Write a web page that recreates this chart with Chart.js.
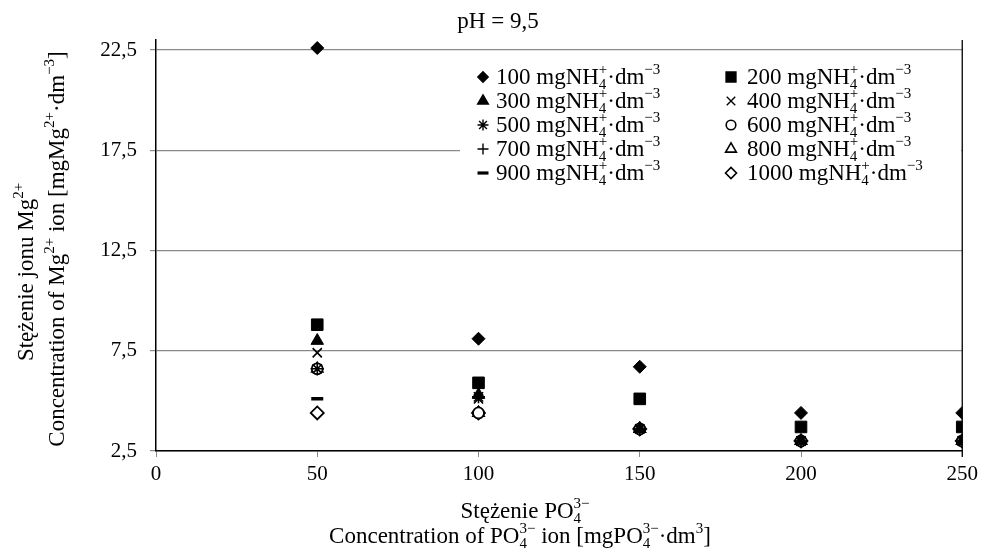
<!DOCTYPE html>
<html>
<head>
<meta charset="utf-8">
<script src="https://cdn.jsdelivr.net/npm/chart.js@4.4.1/dist/chart.umd.min.js"></script>
<style>
html,body{margin:0;padding:0;background:#fff;}
#wrap{width:983px;height:553px;position:relative;}
</style>
</head>
<body>
<div id="wrap"><canvas id="c" width="983" height="553"></canvas></div>
<script>
// ---- data ----
const phosphate = [50, 100, 150, 200, 250];
const seriesLabels = ['100', '200', '300', '400', '500', '600', '700', '800', '900', '1000'];
const s100  = [22.6, 8.1, 6.7, 4.4, 4.4];
const s200  = [8.8, 5.9, 5.1, 3.7, 3.7];
const s300  = [8.0, 5.3, 3.6, 3.0, 3.0];
const s400  = [7.4, 5.1, 3.6, 3.0, 3.0];
const s500  = [6.6, 5.2, 3.6, 3.0, 3.0];
const s600  = [6.6, 4.4, 3.6, 3.0, 3.0];
const s700  = [6.6, 4.4, 3.6, 3.0, 3.0];
const s800  = [6.6, 4.4, 3.6, 3.0, 3.0];
const s900  = [5.1, 4.4, 3.6, 3.0, 3.0];
const s1000 = [4.4, 4.4, 3.6, 3.0, 3.0];
const yTicks = [2.5, 7.5, 12.5, 17.5, 22.5];
const xTicks = [0, 50, 100, 150, 200, 250];

const FONT = "'Liberation Serif', 'Times New Roman', serif";
const values = [s100, s200, s300, s400, s500, s600, s700, s800, s900, s1000];
const styles = [
  {ps:'rectRot', r:6.5, lr:5.2, fill:'#000', bw:1},
  {ps:'rect', r:8.2, lr:7, fill:'#000', bw:1},
  {ps:'triangle', r:7.2, lr:6.2, fill:'#000', bw:1},
  {ps:'crossRot', r:6.5, lr:6, fill:'#000', bw:1.6},
  {ps:'star', r:6.5, lr:5.5, fill:'#000', bw:1.6},
  {ps:'circle', r:5.5, lr:4.8, fill:'#fff', bw:1.8},
  {ps:'cross', r:6.5, lr:5.5, fill:'#000', bw:1.6},
  {ps:'triangle', r:6.5, lr:6.2, fill:'#fff', bw:1.6},
  {ps:'line', r:6, lr:5.5, fill:'#000', bw:3.5},
  {ps:'rectRot', r:6.5, lr:5.5, fill:'#fff', bw:1.8}
];
const datasets = values.map((arr, i) => ({
  label: seriesLabels[i],
  data: phosphate.map((x, j) => ({x: x, y: arr[j]})),
  pointStyle: styles[i].ps,
  pointRadius: styles[i].r,
  pointBackgroundColor: styles[i].fill,
  pointBorderColor: '#000',
  pointBorderWidth: styles[i].bw,
  showLine: false
}));

// rich text helper
function partWidth(ctx, p, size) {
  if (p.t !== undefined) { ctx.font = size + 'px ' + FONT; return ctx.measureText(p.t).width; }
  const ss = Math.round(size * 0.64);
  ctx.font = ss + 'px ' + FONT;
  if (p.sup !== undefined) return ctx.measureText(p.sup).width;
  if (p.sub !== undefined) return ctx.measureText(p.sub).width;
  if (p.stack) return Math.max(ctx.measureText(p.stack[0]).width, ctx.measureText(p.stack[1]).width);
  return 0;
}
function drawRich(ctx, parts, x, y, size, align) {
  let total = 0;
  parts.forEach(p => total += partWidth(ctx, p, size));
  let cx = align === 'center' ? x - total / 2 : x;
  ctx.textAlign = 'left';
  ctx.textBaseline = 'alphabetic';
  ctx.fillStyle = '#000';
  const ss = Math.round(size * 0.64);
  parts.forEach(p => {
    const w = partWidth(ctx, p, size);
    if (p.t !== undefined) {
      ctx.font = size + 'px ' + FONT; ctx.fillText(p.t, cx, y);
    } else {
      ctx.font = ss + 'px ' + FONT;
      if (p.sup !== undefined) ctx.fillText(p.sup, cx, y - size * 0.42);
      if (p.sub !== undefined) ctx.fillText(p.sub, cx, y + size * 0.2);
      if (p.stack) {
        ctx.fillText(p.stack[0], cx, y - size * 0.42);
        ctx.fillText(p.stack[1], cx, y + size * 0.2);
      }
    }
    cx += w;
  });
}

const legendRows = [[0,1],[2,3],[4,5],[6,7],[8,9]];
const customDraw = {
  id: 'customDraw',
  beforeDatasetsDraw(chart) {
    const ctx = chart.ctx;
    const ca = chart.chartArea;
    ctx.save();
    // legend box
    ctx.fillStyle = '#fff';
    ctx.fillRect(460, 58, ca.right - 460 - 1, 134);
    // legend entries
    const colMarker = [483, 731];
    const colText = [496, 747];
    const rowY = [77, 101, 125, 149, 173];
    legendRows.forEach((row, ri) => {
      row.forEach((di, ci) => {
        const st = styles[di];
        ctx.fillStyle = st.fill;
        ctx.strokeStyle = '#000';
        ctx.lineWidth = st.ps === 'line' ? 3.2 : (st.fill === '#fff' ? 1.6 : 1.4);
        Chart.helpers.drawPoint(ctx, {pointStyle: st.ps, rotation: 0, borderWidth: 1, radius: st.lr}, colMarker[ci], rowY[ri]);
        drawRich(ctx, [{t: seriesLabels[di] + ' mgNH'}, {stack: ['+', '4']}, {t: '·dm'}, {sup: '−3'}], colText[ci], rowY[ri] + 7, 23, 'left');
      });
    });
    ctx.restore();
  },
  afterDraw(chart) {
    const ctx = chart.ctx;
    const ca = chart.chartArea;
    ctx.save();
    // right border
    ctx.strokeStyle = '#000';
    ctx.lineWidth = 1.3;
    ctx.beginPath();
    ctx.moveTo(ca.right, ca.top);
    ctx.lineTo(ca.right, ca.bottom + 6);
    ctx.stroke();
    // title
    drawRich(ctx, [{t: 'pH = 9,5'}], 498, 28, 23, 'center');
    // x title
    drawRich(ctx, [{t: 'Stężenie PO'}, {stack: ['3−', '4']}], 525, 518, 23, 'center');
    drawRich(ctx, [{t: 'Concentration of PO'}, {stack: ['3−', '4']}, {t: ' ion [mgPO'}, {stack: ['3−', '4']}, {t: '·dm'}, {sup: '3'}, {t: ']'}], 520, 543, 23, 'center');
    // y title
    ctx.translate(33, 272);
    ctx.rotate(-Math.PI / 2);
    drawRich(ctx, [{t: 'Stężenie jonu Mg'}, {sup: '2+'}], 0, 0, 23, 'center');
    ctx.restore();
    ctx.save();
    ctx.translate(64, 249);
    ctx.rotate(-Math.PI / 2);
    drawRich(ctx, [{t: 'Concentration of Mg'}, {sup: '2+'}, {t: ' ion [mgMg'}, {sup: '2+'}, {t: '·dm'}, {sup: '−3'}, {t: ']'}], 0, 0, 23, 'center');
    ctx.restore();
  }
};

new Chart(document.getElementById('c'), {
  type: 'scatter',
  data: { datasets: datasets },
  plugins: [customDraw],
  options: {
    responsive: false,
    animation: false,
    events: [],
    layout: { padding: { left: 0, right: 19, top: 40, bottom: 0 } },
    plugins: { legend: { display: false }, tooltip: { enabled: false }, title: { display: false } },
    scales: {
      x: {
        type: 'linear', min: 0, max: 250,
        afterFit(s) { s.height = 102; },
        afterBuildTicks(s) { s.ticks = xTicks.map(v => ({value: v})); },
        border: { display: true, color: '#000', width: 1.5 },
        grid: { drawOnChartArea: false, drawTicks: true, tickLength: 6, color: '#8a8a8a', lineWidth: 1 },
        ticks: { color: '#000', font: { family: FONT, size: 21 }, padding: 5, maxRotation: 0 }
      },
      y: {
        type: 'linear', min: 2.5, max: 23,
        afterFit(s) { s.width = 156; },
        afterBuildTicks(s) { s.ticks = yTicks.map(v => ({value: v})); },
        border: { display: true, color: '#000', width: 1.5 },
        grid: { drawOnChartArea: true, drawTicks: true, tickLength: 6, color: '#8a8a8a', lineWidth: 1.2 },
        ticks: { color: '#000', font: { family: FONT, size: 21 }, padding: 13,
          callback: v => v.toFixed(1).replace('.', ',') }
      }
    }
  }
});
</script>
</body>
</html>
